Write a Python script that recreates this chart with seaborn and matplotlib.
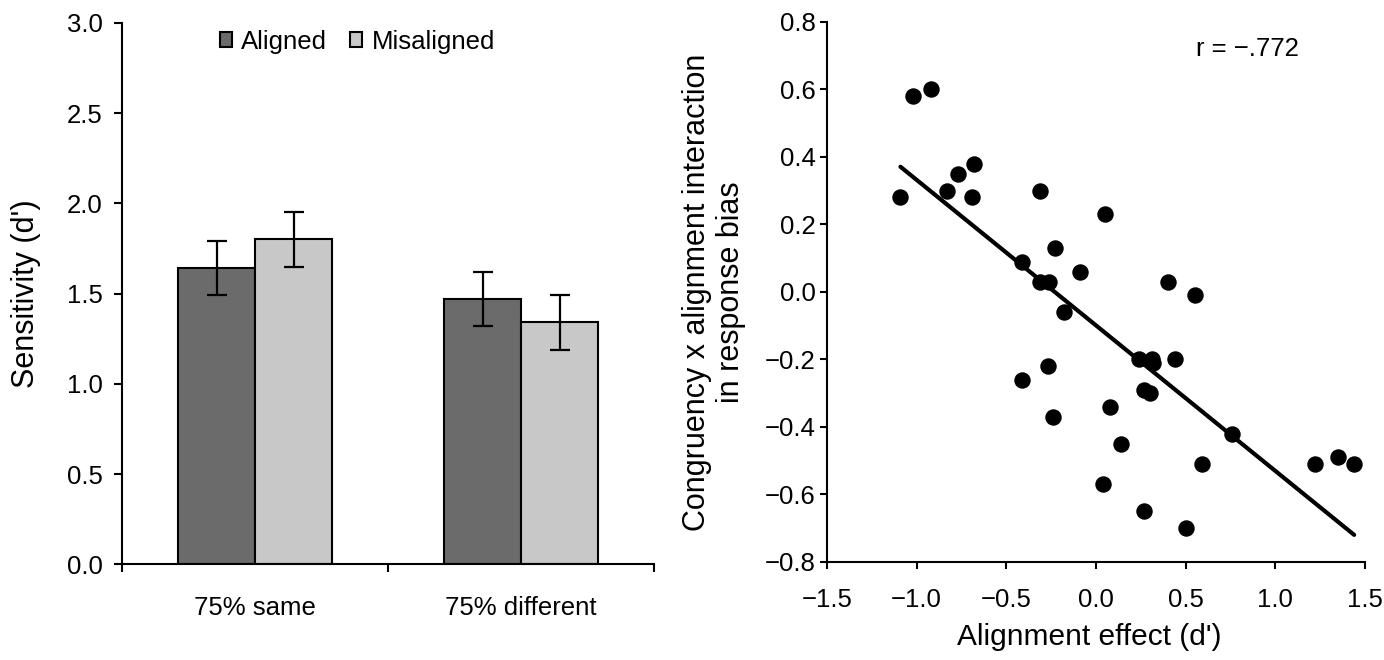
import numpy as np
import pandas as pd
import matplotlib
matplotlib.use("Agg")
import matplotlib.pyplot as plt
import seaborn as sns

# Left panel: sensitivity by condition
conditions = ["75% same", "75% different"]
alignments = ["Aligned", "Misaligned"]
aligned_dprime = [1.64, 1.47]
misaligned_dprime = [1.80, 1.34]
aligned_se = [0.15, 0.15]
misaligned_se = [0.15, 0.15]

# Right panel: alignment effect vs congruency x alignment interaction
alignment_effect = [-1.09, -1.02, -0.92, -0.83, -0.77, -0.68, -0.69, -0.31, 0.05, -0.23,
                    -0.41, -0.09, -0.31, -0.26, 0.40, 0.55, -0.18, 0.24, 0.31, 0.32,
                    0.44, -0.27, -0.41, 0.27, 0.30, 0.08, -0.24, 0.76, 0.14, 0.59,
                    1.22, 1.35, 1.44, 0.04, 0.27, 0.50]
bias_interaction = [0.28, 0.58, 0.60, 0.30, 0.35, 0.38, 0.28, 0.30, 0.23, 0.13,
                    0.09, 0.06, 0.03, 0.03, 0.03, -0.01, -0.06, -0.20, -0.20, -0.21,
                    -0.20, -0.22, -0.26, -0.29, -0.30, -0.34, -0.37, -0.42, -0.45, -0.51,
                    -0.51, -0.49, -0.51, -0.57, -0.65, -0.70]
r_text = "r = \u2212.772"

sns.set_style("ticks")
plt.rcParams['font.family'] = ['Liberation Sans', 'DejaVu Sans']
plt.rcParams['axes.linewidth'] = 1.5
for k in ['text.color', 'axes.labelcolor', 'xtick.color', 'ytick.color', 'axes.edgecolor']:
    plt.rcParams[k] = 'black'

fig = plt.figure(figsize=(13.84, 6.6), dpi=100)
ax1 = fig.add_axes([0.0882, 0.1447, 0.3844, 0.8209])
ax2 = fig.add_axes([0.5975, 0.1485, 0.3887, 0.8182])

# ---- bars ----
df_bar = pd.DataFrame({
    "Condition": conditions * 2,
    "Alignment": ["Aligned"] * 2 + ["Misaligned"] * 2,
    "Sensitivity": aligned_dprime + misaligned_dprime,
})
sns.barplot(data=df_bar, x="Condition", y="Sensitivity", hue="Alignment",
            order=conditions, hue_order=alignments,
            palette=["#6b6b6b", "#c8c8c8"], width=0.58, gap=0,
            edgecolor="black", linewidth=1.5, errorbar=None, ax=ax1)

for cont, se in zip(ax1.containers, [aligned_se, misaligned_se]):
    xs = [b.get_x() + b.get_width() / 2 for b in cont]
    hs = [b.get_height() for b in cont]
    ax1.errorbar(xs, hs, yerr=se, fmt="none", ecolor="black",
                 elinewidth=1.6, capsize=7, capthick=1.6)

ax1.set_xlim(-0.5, 1.5)
ax1.set_ylim(0, 3.0)
ax1.set_yticks(np.arange(0, 3.01, 0.5))
ax1.set_yticklabels([f"{v:.1f}" for v in np.arange(0, 3.01, 0.5)])
ax1.set_xticks([-0.5, 0.5, 1.5], minor=True)
ax1.tick_params(axis="x", which="major", length=0, pad=23, labelsize=18.5)
ax1.tick_params(axis="x", which="minor", length=6, width=1.5, direction="out")
ax1.tick_params(axis="y", length=6, width=1.5, pad=8, labelsize=18.5)
ax1.set_xlabel("")
ax1.set_ylabel("Sensitivity (d')", fontsize=22)
ax1.yaxis.set_label_coords(-0.152, 0.5)
sns.despine(ax=ax1)

handles, labels = ax1.get_legend_handles_labels()
ax1.legend(handles, labels, loc="center", bbox_to_anchor=(0.442, 0.965),
           ncol=2, frameon=False, fontsize=18.5, handlelength=0.48,
           handleheight=0.48, handletextpad=0.35, columnspacing=0.9,
           borderpad=0)

# ---- scatter ----
df_sc = pd.DataFrame({"effect": alignment_effect, "bias": bias_interaction})
sns.regplot(data=df_sc, x="effect", y="bias", ci=None, ax=ax2,
            scatter_kws=dict(s=140, color="black", linewidths=0, alpha=1),
            line_kws=dict(color="black", lw=3))

ax2.set_xlim(-1.5, 1.5)
ax2.set_ylim(-0.8, 0.8)
ax2.set_xticks(np.arange(-1.5, 1.51, 0.5))
ax2.set_yticks(np.arange(-0.8, 0.81, 0.2))
ax2.set_yticklabels([f"{v:.1f}".replace("-", "\u2212") if abs(v) > 1e-9 else "0.0"
                     for v in np.arange(-0.8, 0.81, 0.2)])
ax2.tick_params(axis="x", length=5, width=1.5, pad=14, labelsize=18.5)
ax2.tick_params(axis="y", length=5, width=1.5, pad=3, labelsize=18.5)
ax2.set_xlabel("Alignment effect (d')", fontsize=21.5)
ax2.xaxis.set_label_coords(0.487, -0.139)
ax2.xaxis.label.set_va("center")
ax2.set_ylabel("Congruency x alignment interaction\nin response bias", fontsize=22)
ax2.yaxis.set_label_coords(-0.15, 0.5)
ax2.text(0.56, 0.72, r_text, fontsize=18.5, ha="left", va="center")
sns.despine(ax=ax2)

fig.savefig("out.png", dpi=100)
